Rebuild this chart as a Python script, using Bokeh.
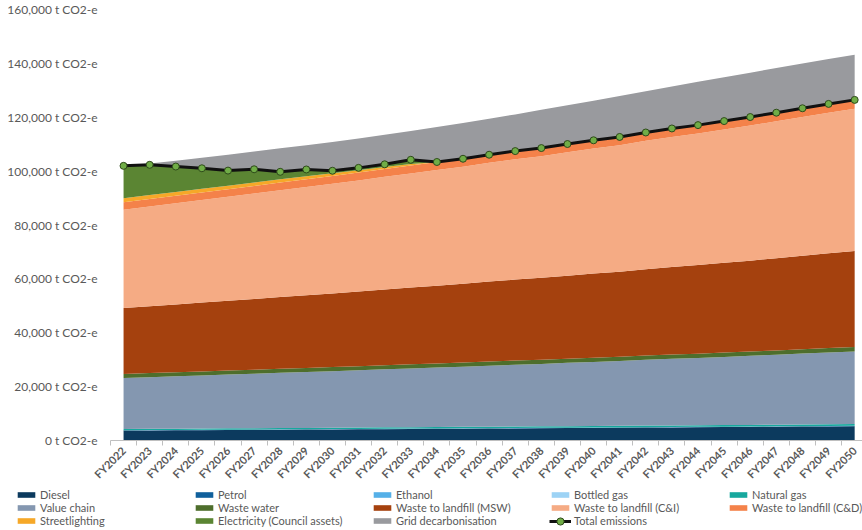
from bokeh.plotting import figure
from bokeh.layouts import column
from bokeh.models import ColumnDataSource, FixedTicker, Legend, LegendItem, Range1d
from bokeh.embed import file_html
from bokeh.resources import INLINE

# Financial years on the x axis
years = ["FY2022", "FY2023", "FY2024", "FY2025", "FY2026", "FY2027", "FY2028",
         "FY2029", "FY2030", "FY2031", "FY2032", "FY2033", "FY2034", "FY2035",
         "FY2036", "FY2037", "FY2038", "FY2039", "FY2040", "FY2041", "FY2042",
         "FY2043", "FY2044", "FY2045", "FY2046", "FY2047", "FY2048", "FY2049",
         "FY2050"]

# Emission sources, t CO2-e per year (stacked bottom to top)
diesel = [3700, 3750, 3800, 3850, 3900, 3960, 4010, 4060, 4110, 4160, 4220, 4270,
          4330, 4380, 4440, 4500, 4550, 4610, 4670, 4720, 4790, 4850, 4910, 4970,
          5030, 5100, 5170, 5240, 5300]
petrol = [80, 80, 80, 80, 80, 80, 80, 80, 80, 85, 85, 85, 85, 85, 85, 85, 85, 85,
          85, 90, 90, 90, 90, 90, 90, 90, 90, 90, 90]
ethanol = [10, 10, 10, 10, 10, 10, 10, 10, 10, 10, 10, 10, 10, 10, 10, 10, 10, 10,
           10, 10, 10, 10, 10, 10, 10, 10, 10, 10, 10]
bottled_gas = [40, 40, 40, 40, 40, 40, 40, 40, 40, 40, 45, 45, 45, 45, 45, 45, 45,
               45, 45, 45, 50, 50, 50, 50, 50, 50, 50, 50, 50]
natural_gas = [450, 460, 460, 470, 480, 480, 490, 490, 500, 510, 520, 520, 530, 540,
               540, 550, 560, 560, 570, 580, 590, 590, 600, 610, 620, 620, 630, 640,
               650]
value_chain = [18930, 19180, 19440, 19700, 19960, 20210, 20480, 20740, 20990, 21260,
               21550, 21820, 22090, 22350, 22670, 22950, 23190, 23510, 23800, 24060,
               24410, 24730, 25000, 25310, 25630, 25970, 26320, 26660, 26980]
waste_water = [1500, 1500, 1510, 1510, 1510, 1520, 1520, 1520, 1530, 1530, 1540, 1540,
               1540, 1550, 1550, 1550, 1560, 1560, 1570, 1570, 1570, 1580, 1580, 1590,
               1590, 1600, 1600, 1610, 1610]
landfill_msw = [24490, 24840, 25190, 25550, 25910, 26270, 26630, 26990, 27340, 27710,
                28110, 28490, 28860, 29220, 29660, 30050, 30380, 30820, 31230, 31590,
                32070, 32510, 32880, 33310, 33750, 34230, 34710, 35180, 35620]
landfill_ci = [36490, 37000, 37520, 38050, 38580, 39100, 39640, 40170, 40690, 41230,
               41820, 42370, 42930, 43450, 44100, 44680, 45160, 45810, 46410, 46940,
               47660, 48300, 48840, 49480, 50130, 50830, 51540, 52230, 52880]
landfill_cd = [2770, 2790, 2800, 2820, 2830, 2850, 2860, 2880, 2890, 2910, 2930, 2950,
               2960, 2980, 3000, 3010, 3030, 3050, 3070, 3080, 3100, 3120, 3140, 3160,
               3180, 3200, 3220, 3240, 3260]
streetlighting = [1500, 1450, 1400, 1350, 1300, 1250, 1200, 1100, 1000, 900, 700, 500,
                  0, 0, 0, 0, 0, 0, 0, 0, 0, 0, 0, 0, 0, 0, 0, 0, 0]
electricity = [12000, 11240, 9450, 7630, 5600, 4920, 2800, 2530, 930, 860, 1010, 1610,
               0, 0, 0, 0, 0, 0, 0, 0, 0, 0, 0, 0, 0, 0, 0, 0, 0]
grid_decarbonisation = [0, 510, 2150, 3870, 5860, 6610, 8700, 9020, 10730, 10940,
                        10970, 10690, 12970, 13290, 13360, 13630, 14170, 14370, 14700,
                        15200, 15300, 15550, 16050, 16270, 16480, 16570, 16610, 16660,
                        16750]
total_emissions = [101960, 102340, 101700, 101060, 100200, 100690, 99750, 100610,
                   100130, 101210, 102530, 104210, 103390, 104590, 106090, 107440,
                   108560, 110060, 111450, 112690, 114340, 115840, 117080, 118580,
                   120080, 121690, 123340, 124950, 126450]

# y axis ticks
y_ticks = [0, 20000, 40000, 60000, 80000, 100000, 120000, 140000, 160000]
y_tick_labels = ["0 t CO2-e", "20,000 t CO2-e", "40,000 t CO2-e", "60,000 t CO2-e",
                 "80,000 t CO2-e", "100,000 t CO2-e", "120,000 t CO2-e",
                 "140,000 t CO2-e", "160,000 t CO2-e"]

series = [
    ("Diesel", diesel, "#0c3a5e"),
    ("Petrol", petrol, "#10609c"),
    ("Ethanol", ethanol, "#55b0e8"),
    ("Bottled gas", bottled_gas, "#9dd3f5"),
    ("Natural gas", natural_gas, "#17a89e"),
    ("Value chain", value_chain, "#8497b0"),
    ("Waste water", waste_water, "#4e6e2c"),
    ("Waste to landfill (MSW)", landfill_msw, "#a5410e"),
    ("Waste to landfill (C&I)", landfill_ci, "#f5ab84"),
    ("Waste to landfill (C&D)", landfill_cd, "#f4824a"),
    ("Streetlighting", streetlighting, "#f6a828"),
    ("Electricity (Council assets)", electricity, "#5b8533"),
    ("Grid decarbonisation", grid_decarbonisation, "#999a9e"),
]

LINE_COLOR = "#111111"
DOT_FILL = "#70ad47"
DOT_LINE = "#2e4a1a"
TEXT_COLOR = "#595959"

x = list(range(len(years)))
data = {"x": x, "total": total_emissions}
keys = []
for i, (_, vals, _) in enumerate(series):
    key = f"s{i}"
    keys.append(key)
    data[key] = vals
source = ColumnDataSource(data)

# ---- main chart ----
p = figure(width=862, height=488,
           x_range=Range1d(-0.5, 28.3), y_range=Range1d(0, 160000),
           output_backend="svg", toolbar_location=None,
           min_border_left=110, min_border_right=0,
           min_border_top=9, min_border_bottom=46)
p.frame_align = False
p.outline_line_color = None
p.xgrid.grid_line_color = None
p.ygrid.grid_line_color = None

p.varea_stack(stackers=keys, x="x", color=[c for _, _, c in series], source=source)

p.line("x", "total", source=source, line_color=LINE_COLOR, line_width=3)
p.scatter("x", "total", source=source, size=7, marker="circle",
          fill_color=DOT_FILL, line_color=DOT_LINE, line_width=1)

# y axis: labels only
yax = p.yaxis[0]
yax.ticker = FixedTicker(ticks=y_ticks)
yax.major_label_overrides = {t: s for t, s in zip(y_ticks, y_tick_labels)}
yax.axis_line_color = None
yax.major_tick_line_color = None
yax.minor_tick_line_color = None
yax.major_tick_out = 0
yax.major_label_standoff = 13
yax.major_label_text_font = "Lato"
yax.major_label_text_font_size = "12px"
yax.major_label_text_color = TEXT_COLOR

# x axis: category labels under the points, tick marks between them
xax = p.xaxis[0]
xax.ticker = FixedTicker(ticks=x, minor_ticks=[i - 0.5 for i in range(len(years) + 1)])
xax.major_label_overrides = {i: s for i, s in zip(x, years)}
xax.major_label_orientation = 0.785398
xax.major_tick_line_color = None
xax.major_tick_out = 0
xax.major_tick_in = 0
xax.minor_tick_line_color = "#bfbfbf"
xax.minor_tick_out = 5
xax.minor_tick_in = 0
xax.axis_line_color = "#bfbfbf"
xax.major_label_standoff = 3
xax.major_label_text_font = "Lato"
xax.major_label_text_font_style = "bold"
xax.major_label_text_font_size = "11px"
xax.major_label_text_color = TEXT_COLOR

# ---- legend strip under the chart ----
leg = figure(width=862, height=42, x_range=Range1d(0, 1), y_range=Range1d(0, 1),
             output_backend="svg", toolbar_location=None,
             x_axis_type=None, y_axis_type=None,
             min_border_left=0, min_border_right=0, min_border_top=0, min_border_bottom=0)
leg.frame_align = False
leg.outline_line_color = None
leg.xgrid.grid_line_color = None
leg.ygrid.grid_line_color = None

legend_style = dict(orientation="horizontal", label_standoff=3, label_width=153,
                    spacing=0, padding=0, margin=0, border_line_color=None,
                    background_fill_alpha=0, label_text_font="Lato",
                    label_text_font_size="11px", label_text_color=TEXT_COLOR)

# swatch renderers sit outside the strip's visible range; only their legend glyphs show
items = []
for name, _, color in series:
    r = leg.varea(x=[5, 6], y1=[5, 5], y2=[6, 6], color=color)
    items.append(LegendItem(label=name, renderers=[r]))
legend = Legend(items=items, location=(15, 3), ncols=5, glyph_width=22,
                glyph_height=7, label_height=13, **legend_style)
leg.add_layout(legend)

# the line-and-marker entry gets a taller glyph box so the marker is visible
lr = leg.line(x=[5, 6], y=[5, 5], line_color=LINE_COLOR, line_width=3)
dr = leg.scatter(x=[5], y=[5], size=7, marker="circle",
                 fill_color=DOT_FILL, line_color=DOT_LINE, line_width=1)
legend_total = Legend(items=[LegendItem(label="Total emissions", renderers=[lr, dr])],
                      location=(15 + 3 * 178, 0.5), glyph_width=22, glyph_height=18,
                      label_height=13, **legend_style)
leg.add_layout(legend_total)

layout = column(p, leg, spacing=0)
open("out.html", "w").write(file_html(layout, INLINE))
